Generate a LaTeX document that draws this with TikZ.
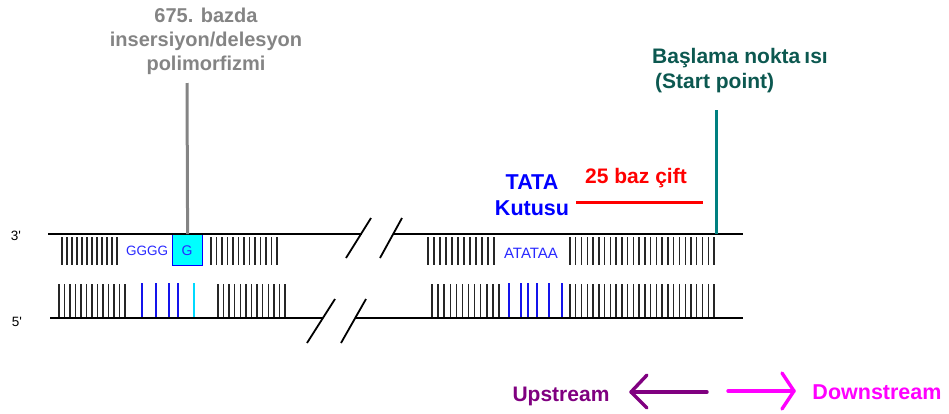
\documentclass[tikz,border=0pt]{standalone}
\usepackage{fontspec}
\setmainfont{Liberation Sans}
\definecolor{labelgray}{RGB}{132,132,132}
\definecolor{starttext}{RGB}{12,88,80}
\definecolor{startline}{RGB}{0,128,128}
\definecolor{basetext}{RGB}{40,40,255}
\definecolor{basetick}{RGB}{20,20,235}
\definecolor{boxcyan}{RGB}{0,255,255}
\definecolor{upcol}{RGB}{128,0,128}
\definecolor{downcol}{RGB}{255,0,255}
\tikzset{
  strand/.style={line width=2.4pt, black},
  breakmark/.style={line width=1.8pt, black},
  pairtick/.style={line width=1.4pt, black!85},
  bluetick/.style={line width=1.3pt, basetick},
  biglabel/.style={font=\fontsize{21}{24}\selectfont\bfseries, inner sep=0pt},
  baselabel/.style={font=\fontsize{14}{16}\selectfont, text=basetext, inner sep=0pt, anchor=base},
  endlabel/.style={font=\fontsize{13.5}{15}\selectfont, inner sep=0pt, anchor=base},
  dirarrow/.style={line width=3.4pt, line cap=round, line join=round}
}
\begin{document}
\begin{tikzpicture}[x=1pt,y=-1pt]
\useasboundingbox (0,0) rectangle (949,413);

% strand end points
\coordinate (t1a) at (48,234);  \coordinate (t1b) at (362,234);
\coordinate (t2a) at (394,234); \coordinate (t2b) at (743,234);
\coordinate (b1a) at (50,318);  \coordinate (b1b) at (323,318);
\coordinate (b2a) at (355,318); \coordinate (b2b) at (743,318);

% base-pair ticks, upper strand
\foreach \i in {0,...,11} \draw[pairtick] ({62+\i*5},237) -- ++(0,28);
\foreach \i in {0,...,12} \draw[pairtick] ({211+\i*5.5},237) -- ++(0,28);
\foreach \i in {0,...,11} \draw[pairtick] ({428+\i*6},237) -- ++(0,28);
\foreach \i in {0,...,25} \draw[pairtick] ({570+\i*5.76},237) -- ++(0,28);

% base-pair ticks, lower strand
\foreach \i in {0,...,12} \draw[pairtick] ({59+\i*5.5},284) -- (59+\i*5.5,318);
\foreach \x in {142,156,169,178} \draw[bluetick] (\x,283) -- (\x,318);
\draw[line width=1.3pt, boxcyan!85!blue] (194,283) -- (194,318);
\foreach \i in {0,...,12} \draw[pairtick] ({218+\i*5.58},284) -- (218+\i*5.58,318);
\foreach \i in {0,...,11} \draw[pairtick] ({432+\i*6.09},284) -- (432+\i*6.09,318);
\foreach \x in {509,521,528,537,549,562} \draw[bluetick] (\x,283) -- (\x,318);
\foreach \i in {0,...,25} \draw[pairtick] ({570+\i*5.76},284) -- (570+\i*5.76,318);

% polymorphic G in its box
\node[draw=blue, line width=1.2pt, fill=boxcyan, minimum width=30pt, minimum height=31pt,
      inner sep=0pt, anchor=north west] (gbox) at (172,234) {};
\node[baselabel] (gsite) at (187,255) {G};
\node[baselabel, font=\fontsize{13.5}{16}\selectfont] (gggg) at (147,255) {GGGG};
\node[baselabel, font=\fontsize{15}{17}\selectfont] (atataa) at (531,258) {ATATAA};

% strands
\draw[strand] (t1a) -- (t1b);
\draw[strand] (t2a) -- (t2b);
\draw[strand] (b1a) -- (b1b);
\draw[strand] (b2a) -- (b2b);

% break marks
\draw[breakmark] (346,258) -- (371,218);
\draw[breakmark] (380,258) -- (402,218);
\draw[breakmark] (307,343) -- (335,299);
\draw[breakmark] (341,343) -- (366,299);

% strand ends
\node[endlabel] (three) at (16,240) {3\textquotesingle};
\node[endlabel] (five) at (17,326) {5\textquotesingle};

% polymorphism marker
\node[biglabel, text=labelgray, align=center, font=\fontsize{20}{24}\selectfont\bfseries]
  (poly) at (206,41.5) {675. bazda\\insersiyon/delesyon\\polimorfizmi};
\coordinate (polytop) at (187,83);
\draw[line width=3pt, labelgray] (polytop) -- (gbox.north);

% TATA box label
\node[biglabel, text=blue, align=center, font=\fontsize{21.5}{26}\selectfont\bfseries]
  (tata) at (532,195.5) {TATA\\Kutusu};

% distance to the start point
\node[biglabel, text=red, anchor=base] (dist) at (636,183) {25 baz çift};
\coordinate (da) at (576,202); \coordinate (db) at (703,202);
\draw[line width=3pt, red] (da) -- (db);

% transcription start point
\node[biglabel, text=starttext, anchor=base west] (startA) at (652,63)
  {Başlama nokta\hspace{4pt}ısı};
\node[biglabel, text=starttext, anchor=base west] (startB) at (655,88)
  {(Start point)};
\coordinate (sp) at (716.5,110); \coordinate (spb) at (716.5,234);
\draw[line width=3pt, startline] (sp) -- (spb);

% direction arrows
\node[biglabel, text=upcol, anchor=base] (up) at (561,401) {Upstream};
\coordinate (upA) at (707,392); \coordinate (upB) at (631,392);
\draw[dirarrow, upcol] (upA) -- (upB);
\draw[dirarrow, upcol] (647,375) -- (upB) -- (647,408);

\node[biglabel, text=downcol, anchor=base, font=\fontsize{21.5}{24}\selectfont\bfseries]
  (down) at (877,399) {Downstream};
\coordinate (dnA) at (728,391); \coordinate (dnB) at (794,391);
\draw[dirarrow, downcol] (dnA) -- (dnB);
\draw[dirarrow, downcol] (782,373) -- (dnB) -- (782,409);
\end{tikzpicture}
\end{document}
